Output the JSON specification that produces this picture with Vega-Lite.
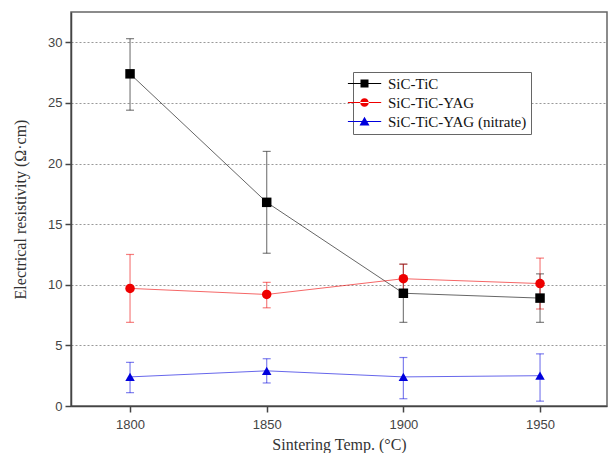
{
  "$schema": "https://vega.github.io/schema/vega-lite/v6.json",
  "width": 536,
  "height": 394,
  "autosize": {"type": "none"},
  "padding": {"left": 71, "top": 12, "right": 1, "bottom": 47},
  "background": "white",
  "config": {
    "view": {"stroke": "#666", "strokeWidth": 1.5},
    "axis": {"labelFont": "Liberation Sans"},
    "legend": {"labelFont": "Liberation Serif", "labelFontSize": 15, "labelColor": "#111"}
  },
  "data": {
    "values": [
      {"series": "SiC-TiC", "temp": 1800, "rho": 27.4, "lo": 24.4, "hi": 30.3},
      {"series": "SiC-TiC", "temp": 1850, "rho": 16.8, "lo": 12.6, "hi": 21.0},
      {"series": "SiC-TiC", "temp": 1900, "rho": 9.3, "lo": 6.9, "hi": 11.7},
      {"series": "SiC-TiC", "temp": 1950, "rho": 8.9, "lo": 6.9, "hi": 10.9},
      {"series": "SiC-TiC-YAG", "temp": 1800, "rho": 9.7, "lo": 6.9, "hi": 12.5},
      {"series": "SiC-TiC-YAG", "temp": 1850, "rho": 9.2, "lo": 8.1, "hi": 10.2},
      {"series": "SiC-TiC-YAG", "temp": 1900, "rho": 10.5, "lo": 9.3, "hi": 11.7},
      {"series": "SiC-TiC-YAG", "temp": 1950, "rho": 10.1, "lo": 8.0, "hi": 12.2},
      {"series": "SiC-TiC-YAG (nitrate)", "temp": 1800, "rho": 2.4, "lo": 1.1, "hi": 3.6},
      {"series": "SiC-TiC-YAG (nitrate)", "temp": 1850, "rho": 2.9, "lo": 1.9, "hi": 3.9},
      {"series": "SiC-TiC-YAG (nitrate)", "temp": 1900, "rho": 2.4, "lo": 0.6, "hi": 4.0},
      {"series": "SiC-TiC-YAG (nitrate)", "temp": 1950, "rho": 2.5, "lo": 0.4, "hi": 4.3}
    ]
  },
  "encoding": {
    "x": {
      "field": "temp",
      "type": "quantitative",
      "scale": {"domain": [1778.4, 1974.5], "nice": false, "zero": false},
      "axis": {
        "values": [1800, 1850, 1900, 1950],
        "format": "d",
        "grid": false,
        "domainColor": "#444",
        "domainWidth": 1.5,
        "tickColor": "#444",
        "tickWidth": 1.5,
        "tickSize": 6,
        "labelFontSize": 13,
        "labelColor": "#444",
        "labelPadding": 6,
        "title": "Sintering Temp. (°C)",
        "titleFont": "Liberation Serif",
        "titleFontSize": 16,
        "titleFontWeight": "normal",
        "titleColor": "#333",
        "titlePadding": 5
      }
    },
    "color": {
      "field": "series",
      "type": "nominal",
      "scale": {
        "domain": ["SiC-TiC", "SiC-TiC-YAG", "SiC-TiC-YAG (nitrate)"],
        "range": ["#000000", "#ee0000", "#0000dd"]
      },
      "legend": null
    }
  },
  "layer": [
    {
      "mark": {"type": "errorbar", "ticks": {"size": 8, "opacity": 0.5}, "thickness": 1.2, "opacity": 0.5},
      "encoding": {
        "y": {
          "field": "lo",
          "type": "quantitative",
          "scale": {"domain": [0, 32.5], "nice": false},
          "axis": {
            "values": [0, 2.5, 5, 7.5, 10, 12.5, 15, 17.5, 20, 22.5, 25, 27.5, 30],
            "labelExpr": "datum.value % 5 === 0 ? datum.label : ''",
            "domainColor": "#444",
            "domainWidth": 1.5,
            "tickColor": "#444",
            "tickWidth": 1.5,
            "tickSize": {"condition": {"test": "datum.value % 5 === 0", "value": 6}, "value": 3},
            "grid": true,
            "gridColor": "#999",
            "gridDash": [2, 2],
            "gridWidth": 1,
            "gridOpacity": {"condition": {"test": "datum.value % 5 === 0 && datum.value > 0", "value": 1}, "value": 0},
            "labelFontSize": 13,
            "labelColor": "#444",
            "labelPadding": 3,
            "title": "Electrical resistivity (Ω·cm)",
            "titleFont": "Liberation Serif",
            "titleFontSize": 16,
            "titleFontWeight": "normal",
            "titleColor": "#333",
            "titlePadding": 19
          }
        },
        "y2": {"field": "hi"}
      }
    },
    {
      "mark": {"type": "line", "strokeWidth": 1, "opacity": 0.6},
      "encoding": {
        "y": {"field": "rho", "type": "quantitative"}
      }
    },
    {
      "mark": {"type": "point", "filled": true, "opacity": 1, "size": 90},
      "encoding": {
        "y": {"field": "rho", "type": "quantitative"},
        "shape": {
          "field": "series",
          "type": "nominal",
          "scale": {"range": ["square", "circle", "triangle-up"]},
          "legend": null
        }
      }
    },
    {
      "mark": {"type": "point", "filled": true, "opacity": 0, "size": 0},
      "encoding": {
        "y": {"field": "rho", "type": "quantitative"},
        "color": {
          "field": "series",
          "type": "nominal",
          "scale": {
            "domain": ["SiC-TiC", "SiC-TiC-YAG", "SiC-TiC-YAG (nitrate)"],
            "range": ["#000000", "#ee0000", "#0000dd"]
          },
          "legend": {
            "title": null,
            "orient": "none",
            "legendX": 282,
            "legendY": 60,
            "direction": "vertical",
            "labelFont": "Liberation Serif",
            "labelFontSize": 15,
            "labelOffset": 16,
            "symbolSize": 100,
            "symbolStrokeWidth": 0,
            "symbolOpacity": 1,
            "symbolType": {"expr": "datum.value === 'SiC-TiC' ? 'M-5.72,0L-5.7,0L-5.71,0Z M-3.32,-0.1H3.34V0.1H-3.32Z M-0.8,-0.8H0.8V0.8H-0.8Z' : datum.value === 'SiC-TiC-YAG' ? 'M-5.72,0L-5.7,0L-5.71,0Z M-3.32,-0.1H3.34V0.1H-3.32Z M-0.86,0A0.86,0.86 0 1,0 0.86,0A0.86,0.86 0 1,0 -0.86,0Z' : 'M-5.72,0L-5.7,0L-5.71,0Z M-3.32,-0.1H3.34V0.1H-3.32Z M0,-0.95L1,0.8H-1Z'"},
            "rowPadding": 3,
            "padding": 4,
            "strokeColor": "#666",
            "fillColor": "white"
          }
        }
      }
    }
  ],
  "resolve": {"scale": {"color": "independent"}}
}
